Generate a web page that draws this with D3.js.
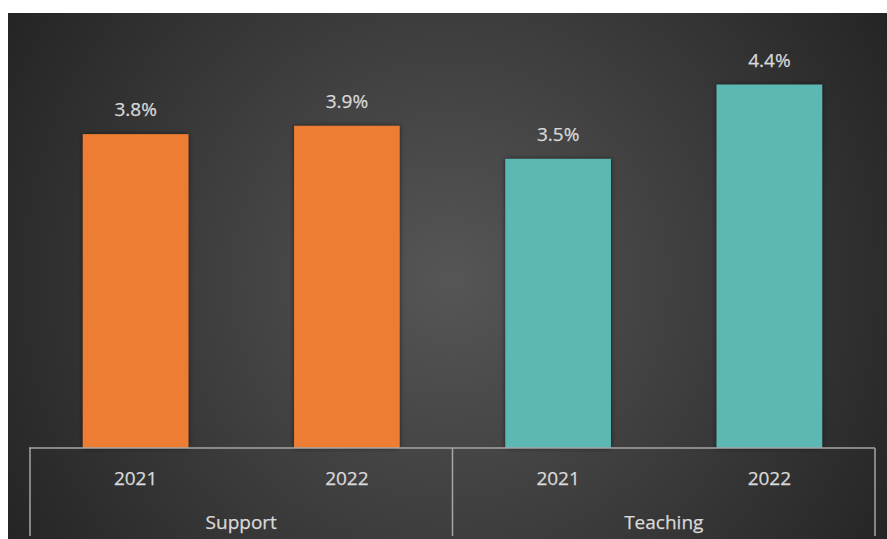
<!DOCTYPE html>
<html>
<head>
<meta charset="utf-8">
<script src="https://cdn.jsdelivr.net/npm/d3@7"></script>
<style>
  html, body { margin: 0; padding: 0; background: #ffffff; }
  svg { display: block; }
  text { font-family: "Open Sans", "Noto Sans", sans-serif; fill: #d9d9d9; stroke: #d9d9d9; stroke-width: 0.25px; }
</style>
</head>
<body>
<svg id="chart" width="887" height="539"></svg>
<script>
// Staff groups and the years shown within each group
const groups = ["Support", "Teaching"];
const years = ["2021", "2022"];
// Rate (%) per group, one value per year
const supportValues = [3.8, 3.9];
const teachingValues = [3.5, 4.4];
const groupColors = ["#ED7D31", "#5BB8B3"];

const rows = [];
groups.forEach((g, gi) => {
  const vals = gi === 0 ? supportValues : teachingValues;
  years.forEach((yr, yi) => rows.push({ group: g, year: yr, key: g + "-" + yr, value: vals[yi], gi }));
});

const W = 887, H = 539;
const svg = d3.select("#chart");
const defs = svg.append("defs");

// Dark radial backdrop
const grad = defs.append("radialGradient")
  .attr("id", "bg").attr("gradientUnits", "userSpaceOnUse")
  .attr("cx", 450).attr("cy", 280).attr("r", 520);
grad.append("stop").attr("offset", "0%").attr("stop-color", "#565656");
grad.append("stop").attr("offset", "100%").attr("stop-color", "#242424");

const shadow = defs.append("filter").attr("id", "shadow")
  .attr("x", "-20%").attr("y", "-20%").attr("width", "140%").attr("height", "140%");
shadow.append("feDropShadow").attr("dx", 0).attr("dy", 0)
  .attr("stdDeviation", 2.5).attr("flood-color", "#000").attr("flood-opacity", 0.55);

svg.append("rect").attr("x", 8).attr("y", 13).attr("width", W - 8).attr("height", H - 13)
  .attr("fill", "url(#bg)");

const baseY = 448;
const x = d3.scaleBand().domain(rows.map(d => d.key)).range([30, 875]).paddingInner(0.5).paddingOuter(0.25);
const y = d3.scaleLinear().domain([0, 5]).range([baseY, baseY - 413]);

// Bars
svg.append("g").selectAll("rect").data(rows).join("rect")
  .attr("x", d => x(d.key))
  .attr("y", d => y(d.value))
  .attr("width", x.bandwidth())
  .attr("height", d => y(0) - y(d.value))
  .attr("fill", d => groupColors[d.gi])
  .attr("filter", "url(#shadow)");

// Value labels
svg.append("g").selectAll("text").data(rows).join("text")
  .attr("x", d => x(d.key) + x.bandwidth() / 2)
  .attr("y", d => y(d.value) - 18)
  .attr("text-anchor", "middle")
  .attr("font-size", 19)
  .text(d => d.value.toFixed(1) + "%");

// Two-level category axis
const axis = svg.append("g").attr("stroke", "#a6a6a6").attr("stroke-width", 1.5).attr("fill", "none");
const [x0, x1] = x.range();
axis.append("line").attr("x1", x0 - 1).attr("x2", x1).attr("y1", baseY).attr("y2", baseY);
const step = x.step();
const dividers = [x0, x0 + step * years.length, x1];
axis.selectAll(".div").data(dividers).join("line")
  .attr("x1", d => d).attr("x2", d => d).attr("y1", baseY).attr("y2", 536);

svg.append("g").selectAll("text").data(rows).join("text")
  .attr("x", d => x(d.key) + x.bandwidth() / 2)
  .attr("y", 485)
  .attr("text-anchor", "middle")
  .attr("font-size", 19)
  .text(d => d.year);

svg.append("g").selectAll("text").data(groups).join("text")
  .attr("x", (d, i) => (dividers[i] + dividers[i + 1]) / 2)
  .attr("y", 529)
  .attr("text-anchor", "middle")
  .attr("font-size", 19)
  .text(d => d);
</script>
</body>
</html>
